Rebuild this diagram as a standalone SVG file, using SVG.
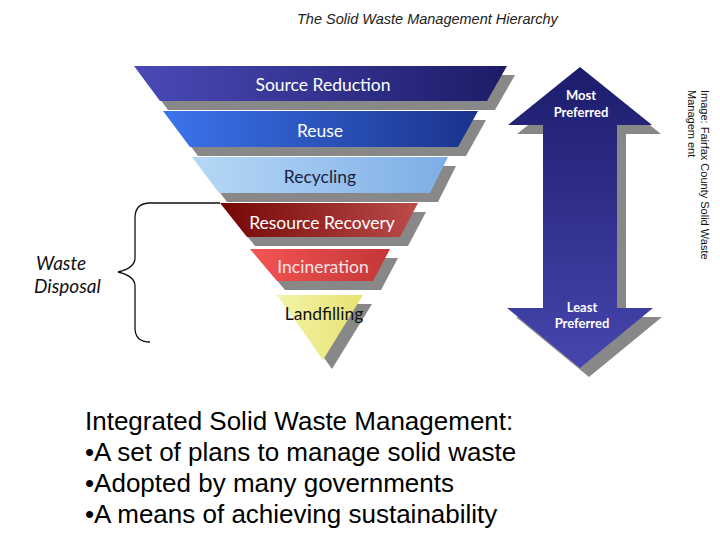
<svg xmlns="http://www.w3.org/2000/svg" width="720" height="540" viewBox="0 0 720 540">
  <defs>
    <linearGradient id="gSource" x1="0" y1="0" x2="1" y2="0">
      <stop offset="0" stop-color="#4a4ab8"/><stop offset="1" stop-color="#1c1c68"/>
    </linearGradient>
    <linearGradient id="gReuse" x1="0" y1="0" x2="1" y2="0">
      <stop offset="0" stop-color="#3c74ec"/><stop offset="1" stop-color="#1a338c"/>
    </linearGradient>
    <linearGradient id="gRecycle" x1="0" y1="0" x2="1" y2="0">
      <stop offset="0" stop-color="#b6d8f6"/><stop offset="1" stop-color="#7eaee6"/>
    </linearGradient>
    <linearGradient id="gRecovery" x1="0" y1="0" x2="1" y2="0">
      <stop offset="0" stop-color="#760606"/><stop offset="1" stop-color="#bc4c4c"/>
    </linearGradient>
    <linearGradient id="gIncin" x1="0" y1="0" x2="1" y2="0">
      <stop offset="0" stop-color="#f45454"/><stop offset="1" stop-color="#c43636"/>
    </linearGradient>
    <linearGradient id="gLand" x1="0" y1="0" x2="1" y2="0">
      <stop offset="0" stop-color="#f4f4a8"/><stop offset="1" stop-color="#e6e272"/>
    </linearGradient>
    <linearGradient id="gArrow" x1="0" y1="0" x2="0" y2="1">
      <stop offset="0" stop-color="#1c1c6c"/><stop offset="1" stop-color="#4646ae"/>
    </linearGradient>
  </defs>
  <style>
    .shadow { fill: #888888; }
    .band { font-family: Lato, "Open Sans", "DejaVu Sans", sans-serif; font-size: 17.5px; text-anchor: middle; }
    .wt { fill: #ffffff; }
    .arrowt { font-family: Lato, "DejaVu Sans", sans-serif; font-size: 13px; font-weight: bold; fill: #ffffff; text-anchor: middle; }
    .body { font-family: "Liberation Sans", Arial, sans-serif; font-size: 26px; fill: #000000; }
  </style>
  <rect width="720" height="540" fill="#ffffff"/>

  <g id="title">
    <text x="297" y="24" font-family="'Liberation Sans', Arial, sans-serif" font-size="14.5" font-style="italic" fill="#222222">The Solid Waste Management Hierarchy</text>
  </g>

  <g id="source-reduction">
    <polygon class="shadow" points="142,75 515,75 495,110 168,110"/>
    <polygon fill="url(#gSource)" points="134,66 507,66 487,101 160,101"/>
    <text class="band wt" x="323" y="91">Source Reduction</text>
  </g>
  <g id="reuse">
    <polygon class="shadow" points="171,120 486,120 466,156 198,156"/>
    <polygon fill="url(#gReuse)" points="163,111 478,111 458,147 190,147"/>
    <text class="band wt" x="320" y="137">Reuse</text>
  </g>
  <g id="recycling">
    <polygon class="shadow" points="200,166 456,166 438,202 227,202"/>
    <polygon fill="url(#gRecycle)" points="192,157 448,157 430,193 219,193"/>
    <text class="band" x="320" y="183" fill="#1a1f3c">Recycling</text>
  </g>
  <g id="resource-recovery">
    <polygon class="shadow" points="228,212 426,212 408,246 255,246"/>
    <polygon fill="url(#gRecovery)" points="220,203 418,203 400,237 247,237"/>
    <text class="band wt" x="322" y="229">Resource Recovery</text>
  </g>
  <g id="incineration">
    <polygon class="shadow" points="258,258 398,258 381,290 285,290"/>
    <polygon fill="url(#gIncin)" points="250,249 390,249 373,281 277,281"/>
    <text class="band" x="323" y="273" fill="#f8e4e4">Incineration</text>
  </g>
  <g id="landfilling">
    <polygon class="shadow" points="285,304 372,304 332,369"/>
    <polygon fill="url(#gLand)" points="277,295 363,295 323,360"/>
    <text class="band" x="324" y="320" fill="#111111">Landfilling</text>
  </g>

  <g id="waste-disposal">
    <path d="M 220,203 L 150,203 Q 135,203 135,218 L 135,258 Q 135,268 118,272 Q 135,276 135,286 L 135,328 Q 135,342 150,342" fill="none" stroke="#111111" stroke-width="1.3"/>
    <text font-family="Lato, 'DejaVu Sans', sans-serif" font-size="19" font-style="italic" fill="#111111">
      <tspan x="36" y="270">Waste</tspan>
      <tspan x="34" y="293">Disposal</tspan>
    </text>
  </g>

  <g id="preference-arrow">
    <polygon class="shadow" points="589,76 661,134 626,134 626,317 662,317 589,377 516,317 552,317 552,134 517,134"/>
    <polygon fill="url(#gArrow)" points="580,67 652,125 617,125 617,308 653,308 580,368 507,308 543,308 543,125 508,125"/>
    <text class="arrowt" x="581" y="100">Most</text>
    <text class="arrowt" x="581" y="117">Preferred</text>
    <text class="arrowt" x="582" y="312">Least</text>
    <text class="arrowt" x="582" y="328">Preferred</text>
  </g>

  <g id="credit" font-family="'Liberation Sans', Arial, sans-serif" font-size="11" fill="#111111">
    <text transform="translate(701,90) rotate(90)">Image: Fairfax County Solid Waste</text>
    <text transform="translate(688,90) rotate(90)">Managem ent</text>
  </g>

  <g id="summary">
    <text class="body" x="85" y="430">Integrated Solid Waste Management:</text>
    <text class="body" x="85" y="461">•A set of plans to manage solid waste</text>
    <text class="body" x="85" y="492">•Adopted by many governments</text>
    <text class="body" x="85" y="523">•A means of achieving sustainability</text>
  </g>
</svg>
